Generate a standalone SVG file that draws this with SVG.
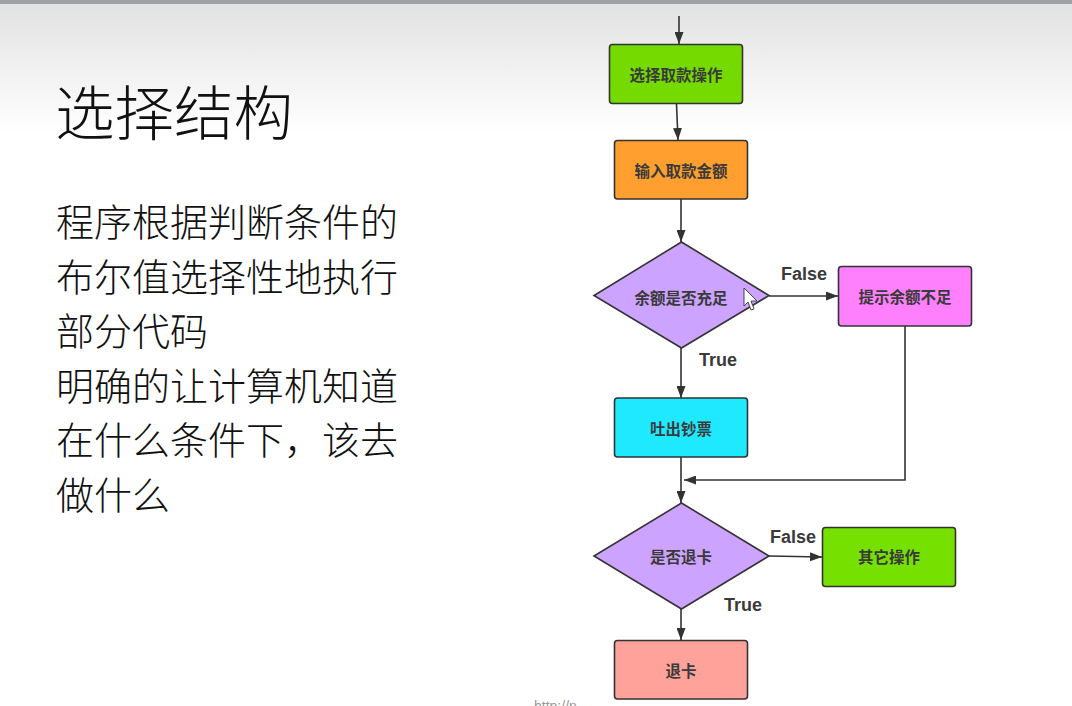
<svg xmlns="http://www.w3.org/2000/svg" width="1072" height="706" viewBox="0 0 1072 706">
<defs>
<linearGradient id="bg" x1="0" y1="0" x2="0" y2="1">
<stop offset="0" stop-color="#e2e2e2"/>
<stop offset="1" stop-color="#ffffff"/>
</linearGradient>
<marker id="ah" viewBox="0 0 12 9" refX="12" refY="4.5" markerWidth="12" markerHeight="9" markerUnits="userSpaceOnUse" orient="auto">
<path d="M0,0 L12,4.5 L0,9 Z" fill="#333"/>
</marker>
<style>
.t{font-family:"Noto Sans CJK SC","Noto Sans",sans-serif;fill:#111;font-weight:200}
.n{stroke:#333;stroke-width:1.6}
.nl{font-family:"Noto Sans CJK SC","Noto Sans",sans-serif;font-size:15.5px;font-weight:700;fill:#3a3a3a;text-anchor:middle;dominant-baseline:central}
.el{font-family:"Liberation Sans","Noto Sans CJK SC",sans-serif;font-size:18px;font-weight:700;fill:#3a3a3a}
.c{fill:none;stroke:#333;stroke-width:1.6}
</style>
</defs>
<rect x="0" y="0" width="1072" height="706" fill="#fff"/>
<rect x="0" y="3" width="1072" height="130" fill="url(#bg)"/>
<rect x="0" y="0" width="1072" height="4" fill="#9fa1a4"/>

<g id="title">
<text class="t" x="55" y="135" font-size="59.5">选择结构</text>
</g>
<g id="body">
<text class="t" font-size="38" font-weight="300">
<tspan x="56" y="236">程序根据判断条件的</tspan>
<tspan x="56" y="290.6">布尔值选择性地执行</tspan>
<tspan x="56" y="345.2">部分代码</tspan>
<tspan x="56" y="399.8">明确的让计算机知道</tspan>
<tspan x="56" y="454.4">在什么条件下，该去</tspan>
<tspan x="56" y="509">做什么</tspan>
</text>
</g>

<g id="connectors">
<line class="c" x1="679" y1="16" x2="679" y2="44" marker-end="url(#ah)"/>
<line class="c" x1="676.5" y1="104" x2="678" y2="140" marker-end="url(#ah)"/>
<line class="c" x1="681" y1="199" x2="681" y2="242" marker-end="url(#ah)"/>
<line class="c" x1="769" y1="296" x2="838" y2="296" marker-end="url(#ah)"/>
<line class="c" x1="681" y1="348" x2="681" y2="398" marker-end="url(#ah)"/>
<polyline class="c" points="905,326 905,480 684,480" marker-end="url(#ah)"/>
<line class="c" x1="681" y1="457" x2="681" y2="503" marker-end="url(#ah)"/>
<line class="c" x1="769" y1="556" x2="822" y2="557" marker-end="url(#ah)"/>
<line class="c" x1="681" y1="609" x2="681" y2="640" marker-end="url(#ah)"/>
<text class="el" x="781" y="280">False</text>
<text class="el" x="699" y="366">True</text>
<text class="el" x="770" y="543">False</text>
<text class="el" x="724" y="611">True</text>
</g>

<g id="n1">
<rect class="n" x="609.5" y="44.5" width="133" height="59" rx="3" fill="#74da00"/>
<text class="nl" x="676" y="74">选择取款操作</text>
</g>
<g id="n2">
<rect class="n" x="614.5" y="140.5" width="133" height="58.5" rx="3" fill="#ff9f2f"/>
<text class="nl" x="681" y="170">输入取款金额</text>
</g>
<g id="n3">
<polygon class="n" points="681.5,242 769,295.5 681.5,348 594,295.5" fill="#cca3ff"/>
<text class="nl" x="681" y="297">余额是否充足</text>
</g>
<g id="n4">
<rect class="n" x="838.5" y="266.5" width="133" height="59.5" rx="3" fill="#ff80fc"/>
<text class="nl" x="905" y="296">提示余额不足</text>
</g>
<g id="n5">
<rect class="n" x="614.5" y="398" width="133" height="59" rx="3" fill="#1fe9ff"/>
<text class="nl" x="681" y="428">吐出钞票</text>
</g>
<g id="n6">
<polygon class="n" points="681.5,503 769,556 681.5,609 594,556" fill="#cca3ff"/>
<text class="nl" x="681" y="556">是否退卡</text>
</g>
<g id="n7">
<rect class="n" x="822.5" y="527.5" width="133" height="59" rx="3" fill="#76e000"/>
<text class="nl" x="889" y="556">其它操作</text>
</g>
<g id="n8">
<rect class="n" x="614.5" y="640.5" width="133" height="58.5" rx="3" fill="#ffa299"/>
<text class="nl" x="681" y="670">退卡</text>
</g>

<g id="cursor">
<polygon points="744,288 744,306 748,302 751,310 754,309 751,301 757,301 Z" fill="#fff" stroke="#333" stroke-width="0.9"/>
</g>
<text x="534" y="711" font-family="Liberation Sans, sans-serif" font-size="14" fill="#999">http://n</text>
</svg>
